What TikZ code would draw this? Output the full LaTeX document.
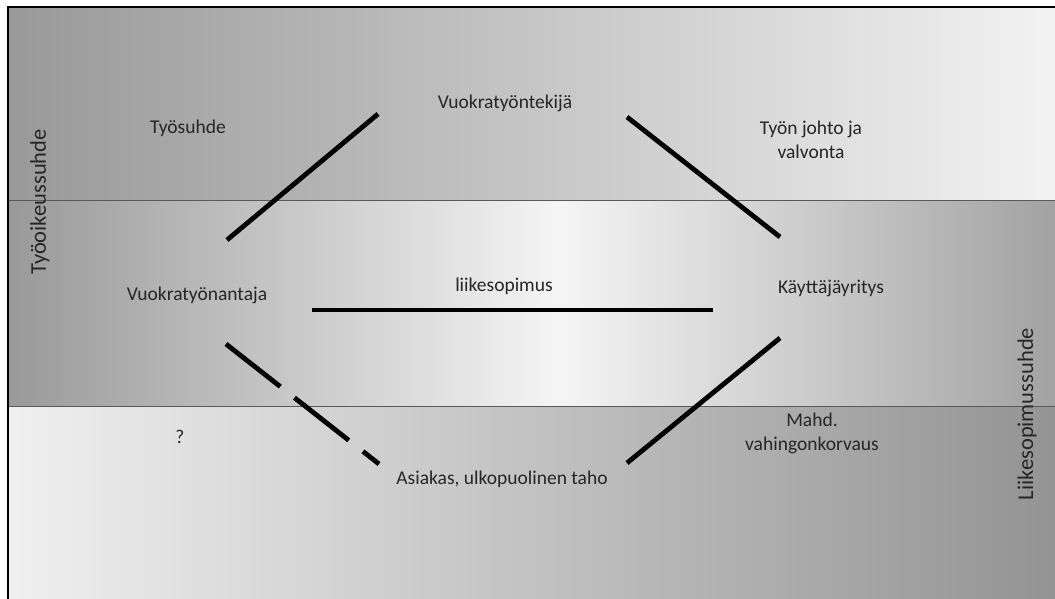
\documentclass[tikz,border=0pt]{standalone}
\usepackage{fontspec}
\setmainfont{Carlito}
\begin{document}
\begin{tikzpicture}[x=1pt,y=-1pt,
  lbl/.style={font=\fontsize{19.5}{24}\selectfont, text=black!85, align=center, inner sep=0pt},
  vlbl/.style={lbl, font=\fontsize{22.5}{27}\selectfont, rotate=90},
  rel/.style={line width=4.8pt, black},
  sep/.style={draw=black!65, line width=1pt}]
\useasboundingbox (0,0) rectangle (1055,599);
\fill[white] (0,0) rectangle (1055,599);
% bands
\shade[left color=black!40, right color=black!5] (8,7) rectangle (1055,200);
\shade[left color=black!40, right color=black!40, middle color=black!4] (8,200) rectangle (1110,406);
\shade[left color=black!6, right color=black!42] (8,406) rectangle (1055,599);
\fill[white] (1055,200) rectangle (1110,406);
\useasboundingbox (0,0) rectangle (1055,599);
\draw[sep] (8,200) -- (1055,200);
\draw[sep] (8,406) -- (1055,406);
\draw[black, line width=1.2pt] (1055,7) -- (8,7) -- (8,599);
% labels
\node[lbl] (vte) at (505,103) {Vuokratyöntekijä};
\node[lbl] (ts) at (188,128) {Työsuhde};
\node[lbl] (tjv) at (811,140) {Työn johto ja\\valvonta};
\node[vlbl] (tos) at (40,202) {Työoikeussuhde};
\node[lbl] (vta) at (197,295) {Vuokratyönantaja};
\node[lbl] (ls) at (504,286) {liikesopimus};
\node[lbl] (ky) at (831,288) {Käyttäjäyritys};
\node[lbl] (q) at (180,437) {?};
\node[lbl] (mv) at (812,433) {Mahd.\\vahingonkorvaus};
\node[lbl] (as) at (502,479) {Asiakas, ulkopuolinen taho};
\node[vlbl] (lss) at (1027,414) {Liikesopimussuhde};
% line ends
\coordinate (a1) at (227,240);
\coordinate (a2) at (378,114);
\coordinate (b1) at (627,117);
\coordinate (b2) at (780,237);
\coordinate (c1) at (312,310);
\coordinate (c2) at (713,310);
\coordinate (d1) at (226,344);
\coordinate (d2) at (379,464);
\coordinate (e1) at (780,338);
\coordinate (e2) at (627,463);
\draw[rel] (a1) -- (a2);
\draw[rel] (b1) -- (b2);
\draw[rel] (c1) -- (c2);
\draw[rel, dash pattern=on 69pt off 18pt] (d1) -- (d2);
\draw[rel] (e1) -- (e2);
\end{tikzpicture}
\end{document}
